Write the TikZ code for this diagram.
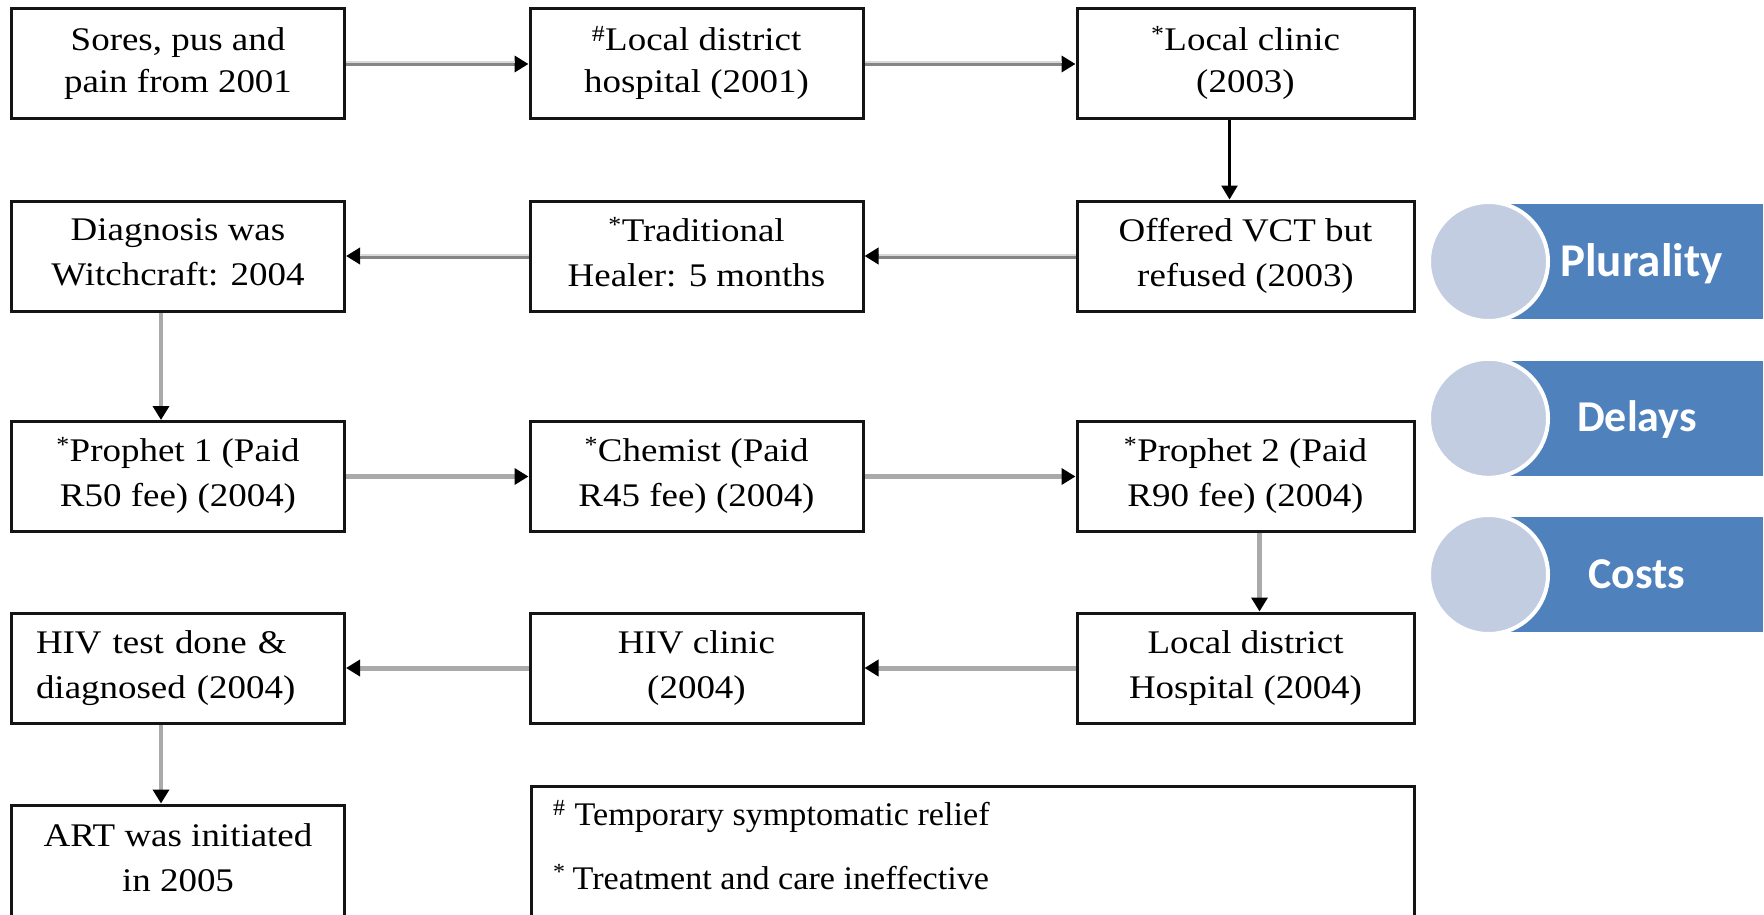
\documentclass[tikz,border=0pt]{standalone}
\usepackage{fontspec}
\setmainfont{Liberation Serif}
\newfontfamily\boxfont[FakeStretch=1.12]{Liberation Serif}
\newfontfamily\notefont[FakeStretch=1.035]{Liberation Serif}
\newfontfamily\pillfont{Carlito}
\usetikzlibrary{arrows.meta}

\definecolor{pillblue}{HTML}{4F81BD}
\definecolor{pilldisc}{HTML}{C2CDE1}
\definecolor{linkgray}{HTML}{AAAAAA}
\definecolor{linkdark}{HTML}{858585}
\definecolor{linklight}{HTML}{D8D8D8}

% superscript markers that do not change the line height
\newcommand{\markhash}{\smash{\textsuperscript{\#}}}
\newcommand{\markstar}{\smash{\textsuperscript{*}}}

\begin{document}
\begin{tikzpicture}[x=1pt,y=-1pt,
  stepbox/.style={draw=black!92, line width=3pt, minimum width=334pt,
    minimum height=110pt, inner sep=0pt, align=center,
    font=\boxfont\fontsize{33}{45}\selectfont,
    execute at begin node={\rule{0pt}{24pt}},
    execute at end node={\rule[-7pt]{0pt}{7pt}}},
  tightlines/.style={font=\boxfont\fontsize{33}{42}\selectfont},
  headtip/.style={-{Triangle[length=14pt,width=16pt,color=black]}},
  flow/.style={headtip, draw=linkgray, line width=5pt},
  flowtwo/.style={headtip, draw=linkdark, line width=5pt},
  sheen/.style={draw=linklight, line width=2pt},
  flowdown/.style={headtip, draw=linkgray, line width=4.5pt},
  flowblack/.style={headtip, draw=black, line width=2.6pt},
  legendbox/.style={draw=black!92, line width=3pt, minimum width=883pt,
    minimum height=154pt, inner sep=0pt},
  legendtext/.style={anchor=base west, inner sep=0pt,
    font=\notefont\fontsize{33}{40}\selectfont},
  pillbar/.style={fill=pillblue, minimum width=274pt, minimum height=115pt,
    inner sep=0pt, anchor=west},
  pilldot/.style={circle, fill=pilldisc, draw=white, line width=4pt,
    minimum size=119pt, inner sep=0pt},
  pilltext/.style={anchor=base, inner sep=0pt, text=white,
    font=\pillfont\bfseries\fontsize{44}{50}\selectfont}
]
\useasboundingbox (0,0) rectangle (1764,915);
\clip (0,0) rectangle (1764,915);

% row 1
\node[stepbox, tightlines, minimum width=333pt] (sores) at (178,64) {Sores, pus and\\pain from 2001};
\node[stepbox, tightlines, minimum width=333pt] (ldh) at (696.5,64) {\markhash Local district\\hospital (2001)};
\node[stepbox, tightlines, minimum width=337pt] (clinic) at (1245.5,64) {\markstar Local clinic\\(2003)};
% row 2
\node[stepbox, minimum width=333pt] (diag) at (178,256) {Diagnosis was\\Witchcraft: 2004};
\node[stepbox, minimum width=333pt] (healer) at (696.5,256) {\markstar Traditional\\Healer: 5 months};
\node[stepbox, minimum width=337pt] (vct) at (1245.5,256) {Offered VCT but\\refused (2003)};
% row 3
\node[stepbox, minimum width=333pt] (proph1) at (178,476.5) {\markstar Prophet 1 (Paid\\R50 fee) (2004)};
\node[stepbox, minimum width=333pt] (chemist) at (696.5,476.5) {\markstar Chemist (Paid\\R45 fee) (2004)};
\node[stepbox, minimum width=337pt] (proph2) at (1245.5,476.5) {\markstar Prophet 2 (Paid\\R90 fee) (2004)};
% row 4
\node[stepbox, minimum width=333pt, text width=284pt, align=left] (hivtest) at (178,668) {HIV test done \&\\diagnosed (2004)};
\node[stepbox, minimum width=333pt] (hivclinic) at (696.5,668) {HIV clinic\\(2004)};
\node[stepbox, minimum width=337pt] (ldh2) at (1245.5,668) {Local district\\Hospital (2004)};
% row 5
\node[stepbox, minimum width=333pt, minimum height=113pt] (art) at (178,861.5) {ART was initiated\\in 2005};

% legend
\node[legendbox] (legend) at (972.5,863) {};
\node[legendtext] (notehash) at (553,825) {\markhash\hspace{9pt}Temporary symptomatic relief};
\node[legendtext] (notestar) at (553,889) {\markstar\hspace{7pt}Treatment and care ineffective};

% connectors (the upper two rows carry a light upper edge)
\draw[flowtwo] (sores) -- (ldh);
\draw[sheen] ([yshift=1.5pt]sores.east) -- ([yshift=1.5pt,xshift=-14pt]ldh.west);
\draw[flowtwo] (ldh) -- (clinic);
\draw[sheen] ([yshift=1.5pt]ldh.east) -- ([yshift=1.5pt,xshift=-14pt]clinic.west);
\draw[flowblack] ([xshift=-16pt]clinic.south) -- ([xshift=-16pt]vct.north);
\draw[flowtwo] (vct) -- (healer);
\draw[sheen] ([yshift=1.5pt]vct.west) -- ([yshift=1.5pt,xshift=14pt]healer.east);
\draw[flowtwo] (healer) -- (diag);
\draw[sheen] ([yshift=1.5pt]healer.west) -- ([yshift=1.5pt,xshift=14pt]diag.east);
\draw[flowdown] ([xshift=-17pt]diag.south) -- ([xshift=-17pt]proph1.north);
\draw[flow] (proph1) -- (chemist);
\draw[flow] (chemist) -- (proph2);
\draw[flowdown] ([xshift=14pt]proph2.south) -- ([xshift=14pt]ldh2.north);
\draw[flow] (ldh2) -- (hivclinic);
\draw[flow] (hivclinic) -- (hivtest);
\draw[flowdown] ([xshift=-17pt]hivtest.south) -- ([xshift=-17pt]art.north);

% theme list on the right
\node[pillbar] (barA) at (1488.5,261.5) {};
\node[pilldot] (dotA) at (1488.5,261.5) {};
\node[pilltext, font=\pillfont\bfseries\fontsize{47}{52}\selectfont] (textA) at (1641.5,276.7) {Plurality};

\node[pillbar] (barB) at (1488.5,418.3) {};
\node[pilldot] (dotB) at (1488.5,418.3) {};
\node[pilltext] (textB) at (1637,431.5) {Delays};

\node[pillbar] (barC) at (1488.5,574.5) {};
\node[pilldot] (dotC) at (1488.5,574.5) {};
\node[pilltext] (textC) at (1636.5,588.5) {Costs};
\end{tikzpicture}
\end{document}
